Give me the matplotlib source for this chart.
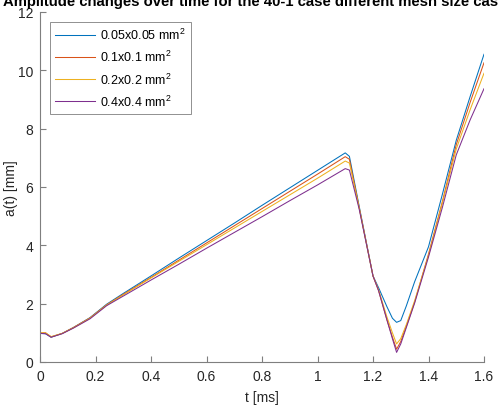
import numpy as np
import matplotlib
import matplotlib.pyplot as plt

matplotlib.use('Agg')

plt.rcParams['font.family'] = ['Liberation Sans', 'DejaVu Sans']
plt.rcParams['mathtext.default'] = 'regular'

# time [ms]
t = [0, 0.02, 0.04, 0.08, 0.12, 0.18, 0.24, 0.3, 0.4, 0.5, 0.6, 0.7, 0.8, 0.9, 1.0,
     1.1, 1.115, 1.15, 1.2, 1.22, 1.25, 1.27, 1.285, 1.3, 1.32, 1.35, 1.4, 1.45,
     1.5, 1.55, 1.6]

# amplitude a(t) [mm] per mesh size
a_005 = [0.98, 0.97, 0.85, 0.98, 1.18, 1.52, 1.98, 2.35, 2.95, 3.56, 4.16, 4.76, 5.37,
         5.97, 6.57, 7.17, 7.05, 5.35, 2.95, 2.55, 1.9, 1.5, 1.36, 1.42, 1.92, 2.75,
         3.95, 5.75, 7.6, 9.1, 10.55]
a_01 = [1.0, 1.0, 0.86, 0.98, 1.18, 1.51, 1.96, 2.32, 2.9, 3.49, 4.08, 4.67, 5.26,
        5.85, 6.44, 7.04, 6.95, 5.3, 2.95, 2.45, 1.45, 0.85, 0.44, 0.7, 1.22, 2.05,
        3.7, 5.5, 7.45, 8.9, 10.26]
a_02 = [1.0, 1.0, 0.87, 0.98, 1.17, 1.5, 1.95, 2.3, 2.88, 3.45, 4.02, 4.59, 5.16,
        5.73, 6.3, 6.89, 6.82, 5.3, 2.95, 2.48, 1.55, 1.0, 0.62, 0.8, 1.28, 2.1,
        3.65, 5.45, 7.3, 8.65, 9.9]
a_04 = [0.98, 0.97, 0.85, 0.97, 1.16, 1.48, 1.93, 2.26, 2.81, 3.35, 3.9, 4.44, 4.98,
        5.53, 6.07, 6.63, 6.58, 5.25, 2.95, 2.45, 1.45, 0.8, 0.33, 0.62, 1.18, 2.02,
        3.6, 5.3, 7.1, 8.3, 9.37]

labels = ['0.05x0.05 mm$^2$', '0.1x0.1 mm$^2$', '0.2x0.2 mm$^2$', '0.4x0.4 mm$^2$']
colors = ['#0072BD', '#D95319', '#EDB120', '#7E2F8E']

fig = plt.figure(figsize=(4.98, 4.06), dpi=100)
ax = fig.add_axes([40/498, 43/406, 444/498, 350/406])

for a, lab, c in zip([a_005, a_01, a_02, a_04], labels, colors):
    ax.plot(t, a, color=c, linewidth=0.75, label=lab)

ax.set_xlim(0, 1.6)
ax.set_ylim(0, 12)
ax.set_xticks(np.arange(0, 1.61, 0.2))
ax.set_xticklabels(['0', '0.2', '0.4', '0.6', '0.8', '1', '1.2', '1.4', '1.6'])
ax.set_yticks(range(0, 13, 2))

for s in ['top', 'right']:
    ax.spines[s].set_visible(False)
for s in ['left', 'bottom']:
    ax.spines[s].set_color('#7f7f7f')
    ax.spines[s].set_linewidth(0.8)
ax.tick_params(direction='in', length=4, width=0.8, color='#7f7f7f',
               labelcolor='#262626', labelsize=10, pad=5)

ax.set_xlabel('t [ms]', fontsize=10, color='#262626', labelpad=5)
ax.set_ylabel('a(t) [mm]', fontsize=10, color='#262626', labelpad=0)

fig.text(255/498, 0.984, 'Amplitude changes over time for the 40-1 case different mesh size case',
         ha='center', va='baseline', fontsize=10.7, fontweight='bold')

leg = ax.legend(loc='upper left', bbox_to_anchor=(0.0225, 0.971), borderaxespad=0,
                fontsize=9, fancybox=False, framealpha=1, edgecolor='#7f7f7f',
                handlelength=3.2, handletextpad=0.4, labelspacing=0.55)
leg.get_frame().set_linewidth(0.6)

plt.savefig('out.png', dpi=100)
plt.close()
